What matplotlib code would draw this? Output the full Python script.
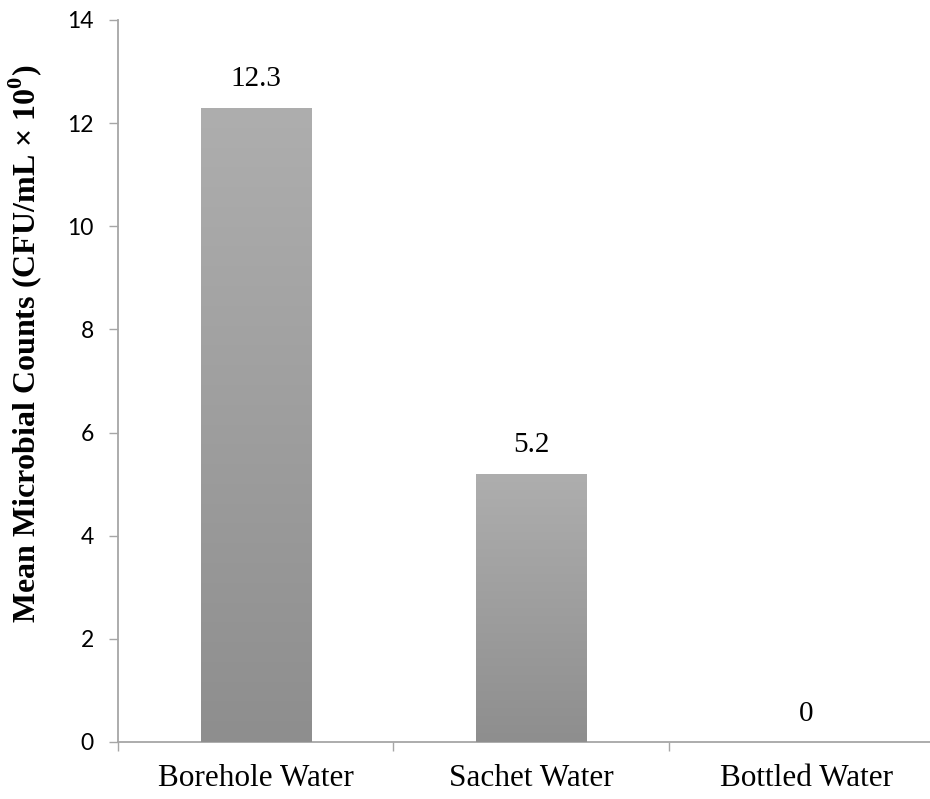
import numpy as np
import matplotlib
matplotlib.use('Agg')
import matplotlib.pyplot as plt
from matplotlib.colors import LinearSegmentedColormap

plt.rcParams['mathtext.fontset'] = 'custom'
plt.rcParams['mathtext.rm'] = 'Liberation Serif'
plt.rcParams['mathtext.bf'] = 'Liberation Serif:bold'

categories = ['Borehole Water', 'Sachet Water', 'Bottled Water']
counts = [12.3, 5.2, 0]
value_labels = ['12.3', '5.2', '0']
y_ticks = [0, 2, 4, 6, 8, 10, 12, 14]

axis_gray = '#a6a6a6'

fig = plt.figure(figsize=(9.30, 7.99), dpi=100)
ax = fig.add_axes([118 / 930, 1 - 742 / 799, 826 / 930, 722 / 799])

x = np.arange(len(categories))
bars = ax.bar(x, counts, width=0.4, color='#a0a0a0', edgecolor='none', zorder=2)

# vertical gradient fill, lighter at top
grad_cmap = LinearSegmentedColormap.from_list('grad', ['#8e8e8e', '#aeaeae'])
gradient = np.linspace(0, 1, 256).reshape(-1, 1)
for b in bars:
    if b.get_height() <= 0:
        continue
    x0, w, h = b.get_x(), b.get_width(), b.get_height()
    im = ax.imshow(gradient, cmap=grad_cmap, aspect='auto', origin='lower',
                   extent=[x0, x0 + w, 0, h], zorder=3)
    im.set_clip_path(b)

for xi, v, lab in zip(x, counts, value_labels):
    ax.text(xi, v + 0.3, lab, ha='center', va='bottom', fontsize=21,
            family='Liberation Serif', color='black')

ax.set_xlim(-0.5, 2.5)
ax.set_ylim(0, 14)
ax.set_yticks(y_ticks)
ax.set_yticklabels([str(t) for t in y_ticks], fontsize=16.5, family='Lato')
ax.set_xticks([-0.5, 0.5, 1.5], minor=False)
ax.set_xticklabels([])
ax.set_xticks(x, minor=True)
ax.set_xticklabels(categories, minor=True, fontsize=22.5, family='Liberation Serif')

ax.tick_params(axis='y', length=6.5, width=1, color=axis_gray, direction='out', pad=11)
ax.tick_params(axis='x', which='major', length=6.5, width=1, color=axis_gray, direction='out')
ax.tick_params(axis='x', which='minor', length=0, pad=16)

for side in ['top', 'right']:
    ax.spines[side].set_visible(False)
for side in ['left', 'bottom']:
    ax.spines[side].set_color(axis_gray)
    ax.spines[side].set_linewidth(1.3)

fig.text(25 / 930, 1 - 344 / 799,
         r'Mean Microbial Counts (CFU/mL × 10$^{\mathbf{0}}$)',
         rotation=90, ha='center', va='center', fontsize=23,
         family='Liberation Serif', fontweight='bold')

fig.savefig('out.png', dpi=100)
